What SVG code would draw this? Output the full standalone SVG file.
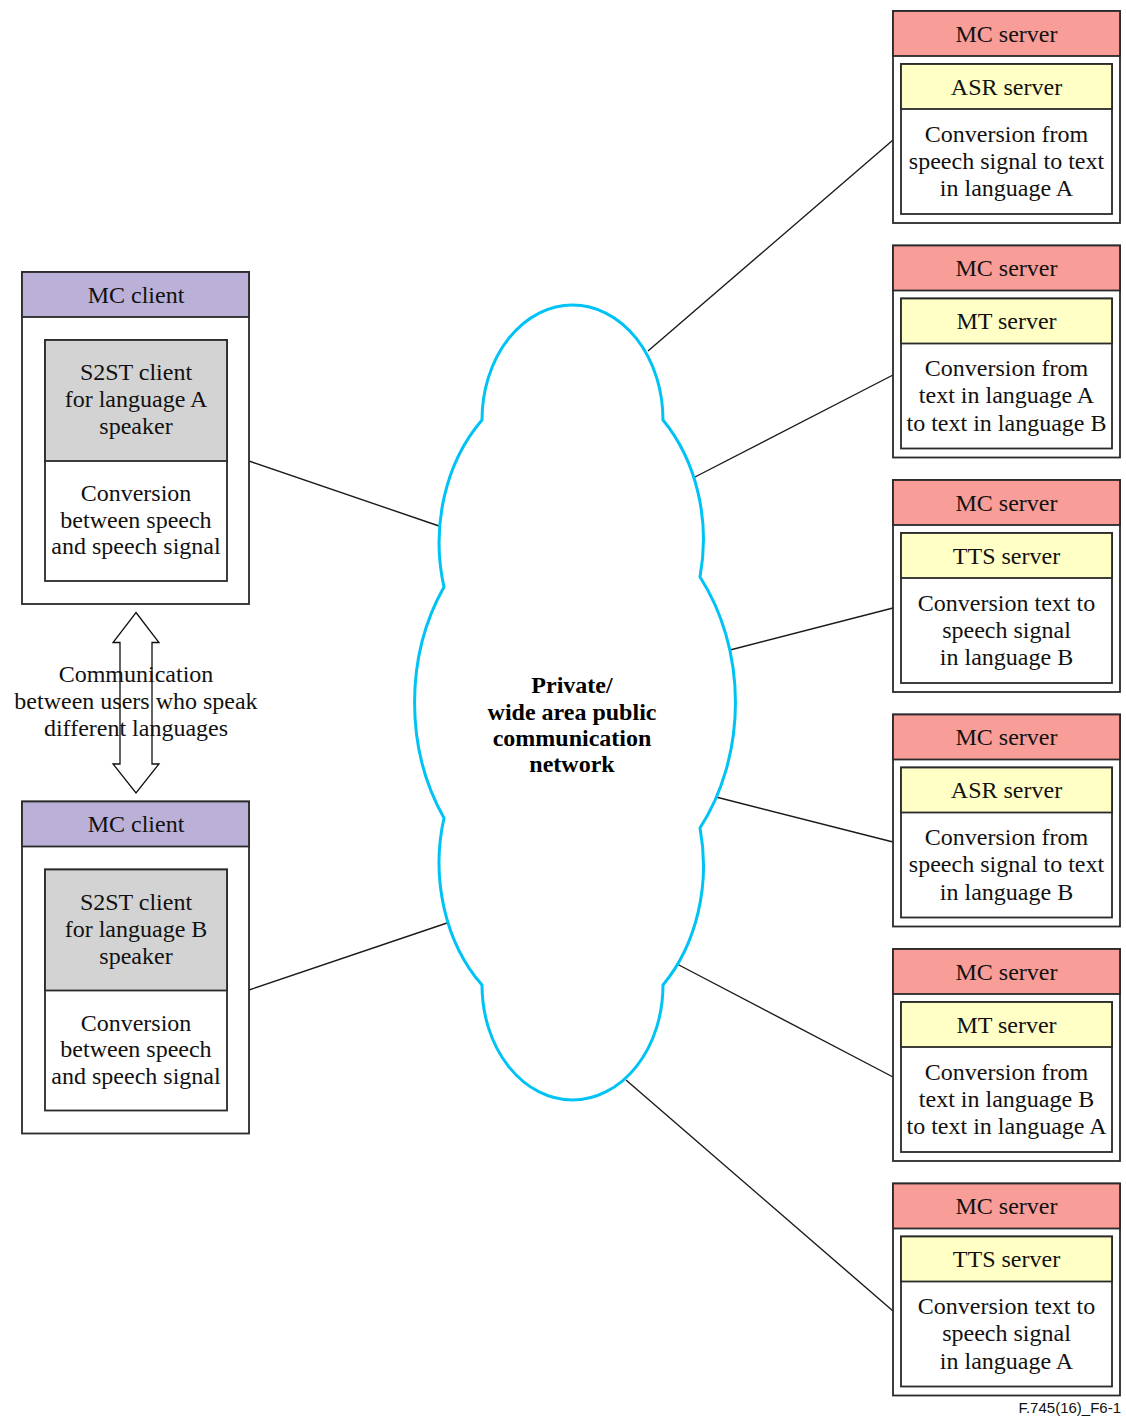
<svg xmlns="http://www.w3.org/2000/svg" width="1126" height="1417" viewBox="0 0 1126 1417">
<defs>
<style>
.box{fill:#ffffff;stroke:#2a2a2a;stroke-width:1.8}
.srvh{fill:#F99D98;stroke:#2a2a2a;stroke-width:1.8}
.yel{fill:#FFFFC6;stroke:#2a2a2a;stroke-width:1.8}
.cli{fill:#BAB0D8;stroke:#2a2a2a;stroke-width:1.8}
.gry{fill:#D3D3D3;stroke:#2a2a2a;stroke-width:1.8}
.t{font-family:"Liberation Serif","Times New Roman",serif;font-size:24px;fill:#111111;text-anchor:middle}
.tb{font-family:"Liberation Serif","Times New Roman",serif;font-size:24px;font-weight:bold;fill:#000000;text-anchor:middle}
.conn line{stroke:#1a1a1a;stroke-width:1.4}
.cloud{fill:#ffffff;stroke:#00C3F5;stroke-width:3}
</style>
</defs>
<rect width="1126" height="1417" fill="#ffffff"/>

<g id="connectors" class="conn">
<line x1="893" y1="140" x2="648" y2="351"/>
<line x1="893" y1="375" x2="693" y2="478"/>
<line x1="893" y1="608" x2="730" y2="650"/>
<line x1="893" y1="842" x2="716" y2="797"/>
<line x1="893" y1="1077" x2="677" y2="964"/>
<line x1="893" y1="1311" x2="626" y2="1080"/>
<line x1="249" y1="461" x2="439" y2="526"/>
<line x1="249" y1="990" x2="447" y2="923"/>
</g>

<g id="network">
<path class="cloud" d="M 482 420 A 90.5 115 0 0 1 663 420 A 136 168 0 0 1 700 577 A 162 201 0 0 1 700 828 A 131 165 0 0 1 663 985 A 90.5 115 0 0 1 482 985 A 131 165 0 0 1 444 818 A 162 201 0 0 1 444 587 A 136 168 0 0 1 482 420 Z"/>
<text class="tb" x="572" y="693">Private/</text>
<text class="tb" x="572" y="719.5">wide area public</text>
<text class="tb" x="572" y="746">communication</text>
<text class="tb" x="572" y="772">network</text>
</g>

<g id="client-a" transform="translate(0,272)">
<rect class="box" x="22" y="0" width="227" height="332"/>
<rect class="cli" x="22" y="0" width="227" height="45"/>
<rect class="box" x="45" y="68" width="182" height="241"/>
<rect class="gry" x="45" y="68" width="182" height="121"/>
<text class="t" x="136" y="30.5">MC client</text>
<text class="t" x="136" y="108">S2ST client</text>
<text class="t" x="136" y="135">for language A</text>
<text class="t" x="136" y="162">speaker</text>
<text class="t" x="136" y="229">Conversion</text>
<text class="t" x="136" y="255.5">between speech</text>
<text class="t" x="136" y="282">and speech signal</text>
</g>

<g id="client-b" transform="translate(0,801.5)">
<rect class="box" x="22" y="0" width="227" height="332"/>
<rect class="cli" x="22" y="0" width="227" height="45"/>
<rect class="box" x="45" y="68" width="182" height="241"/>
<rect class="gry" x="45" y="68" width="182" height="121"/>
<text class="t" x="136" y="30.5">MC client</text>
<text class="t" x="136" y="108">S2ST client</text>
<text class="t" x="136" y="135">for language B</text>
<text class="t" x="136" y="162">speaker</text>
<text class="t" x="136" y="229">Conversion</text>
<text class="t" x="136" y="255.5">between speech</text>
<text class="t" x="136" y="282">and speech signal</text>
</g>

<g id="communication">
<polygon points="136,612.5 159,642.5 152,642.5 152,764 159,764 136,793 113,764 120,764 120,642.5 113,642.5" fill="none" stroke="#111111" stroke-width="1.3"/>
<text class="t" x="136" y="682">Communication</text>
<text class="t" x="136" y="709">between users who speak</text>
<text class="t" x="136" y="736">different languages</text>
</g>

<g id="server-asr-a" transform="translate(0,11)">
<rect class="box" x="893" y="0" width="227" height="212"/>
<rect class="srvh" x="893" y="0" width="227" height="45"/>
<rect class="box" x="901" y="53" width="211" height="150"/>
<rect class="yel" x="901" y="53" width="211" height="45"/>
<text class="t" x="1006.5" y="30.5">MC server</text>
<text class="t" x="1006.5" y="83.5">ASR server</text>
<text class="t" x="1006.5" y="130.5">Conversion from</text>
<text class="t" x="1006.5" y="157.8">speech signal to text</text>
<text class="t" x="1006.5" y="185">in language A</text>
</g>

<g id="server-mt-ab" transform="translate(0,245.5)">
<rect class="box" x="893" y="0" width="227" height="212"/>
<rect class="srvh" x="893" y="0" width="227" height="45"/>
<rect class="box" x="901" y="53" width="211" height="150"/>
<rect class="yel" x="901" y="53" width="211" height="45"/>
<text class="t" x="1006.5" y="30.5">MC server</text>
<text class="t" x="1006.5" y="83.5">MT server</text>
<text class="t" x="1006.5" y="130.5">Conversion from</text>
<text class="t" x="1006.5" y="157.8">text in language A</text>
<text class="t" x="1006.5" y="185">to text in language B</text>
</g>

<g id="server-tts-b" transform="translate(0,480)">
<rect class="box" x="893" y="0" width="227" height="212"/>
<rect class="srvh" x="893" y="0" width="227" height="45"/>
<rect class="box" x="901" y="53" width="211" height="150"/>
<rect class="yel" x="901" y="53" width="211" height="45"/>
<text class="t" x="1006.5" y="30.5">MC server</text>
<text class="t" x="1006.5" y="83.5">TTS server</text>
<text class="t" x="1006.5" y="130.5">Conversion text to</text>
<text class="t" x="1006.5" y="157.8">speech signal</text>
<text class="t" x="1006.5" y="185">in language B</text>
</g>

<g id="server-asr-b" transform="translate(0,714.5)">
<rect class="box" x="893" y="0" width="227" height="212"/>
<rect class="srvh" x="893" y="0" width="227" height="45"/>
<rect class="box" x="901" y="53" width="211" height="150"/>
<rect class="yel" x="901" y="53" width="211" height="45"/>
<text class="t" x="1006.5" y="30.5">MC server</text>
<text class="t" x="1006.5" y="83.5">ASR server</text>
<text class="t" x="1006.5" y="130.5">Conversion from</text>
<text class="t" x="1006.5" y="157.8">speech signal to text</text>
<text class="t" x="1006.5" y="185">in language B</text>
</g>

<g id="server-mt-ba" transform="translate(0,949)">
<rect class="box" x="893" y="0" width="227" height="212"/>
<rect class="srvh" x="893" y="0" width="227" height="45"/>
<rect class="box" x="901" y="53" width="211" height="150"/>
<rect class="yel" x="901" y="53" width="211" height="45"/>
<text class="t" x="1006.5" y="30.5">MC server</text>
<text class="t" x="1006.5" y="83.5">MT server</text>
<text class="t" x="1006.5" y="130.5">Conversion from</text>
<text class="t" x="1006.5" y="157.8">text in language B</text>
<text class="t" x="1006.5" y="185">to text in language A</text>
</g>

<g id="server-tts-a" transform="translate(0,1183.5)">
<rect class="box" x="893" y="0" width="227" height="212"/>
<rect class="srvh" x="893" y="0" width="227" height="45"/>
<rect class="box" x="901" y="53" width="211" height="150"/>
<rect class="yel" x="901" y="53" width="211" height="45"/>
<text class="t" x="1006.5" y="30.5">MC server</text>
<text class="t" x="1006.5" y="83.5">TTS server</text>
<text class="t" x="1006.5" y="130.5">Conversion text to</text>
<text class="t" x="1006.5" y="157.8">speech signal</text>
<text class="t" x="1006.5" y="185">in language A</text>
</g>

<text x="1121" y="1413" font-family="Liberation Sans, Arial, sans-serif" font-size="15" fill="#111111" text-anchor="end">F.745(16)_F6-1</text>
</svg>
